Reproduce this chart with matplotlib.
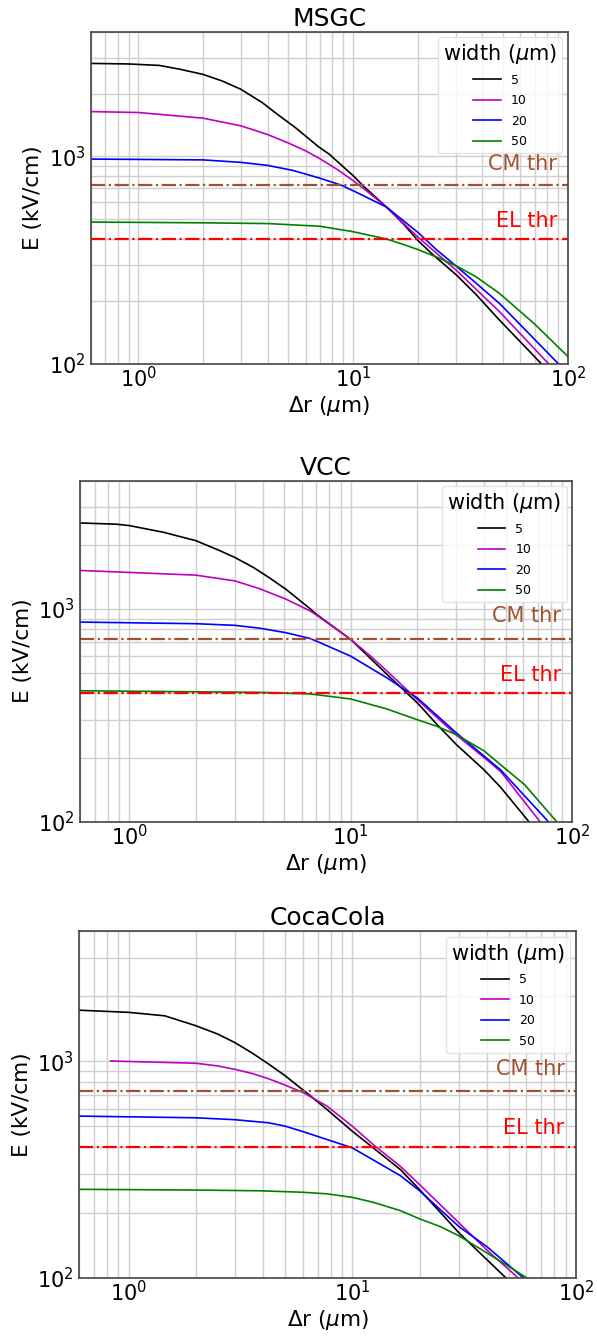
import numpy as np
import matplotlib
matplotlib.use("Agg")
import matplotlib.pyplot as plt
import matplotlib.transforms as mtransforms

titles = ["MSGC", "VCC", "CocaCola"]
widths = ["5", "10", "20", "50"]
colors = ["black", "m", "b", "g"]
cm_thr = 725
el_thr = 400

# MSGC
msgc_x5 = [0.6, 0.9, 1.25, 1.55, 2.0, 2.46, 3.0, 3.77, 4.5, 5.38, 6.9, 7.72, 10.0, 11.1, 14.3, 17.1, 20.0, 23.6, 30.2, 37.4, 48.0, 75.0]
msgc_y5 = [2812, 2795, 2750, 2640, 2489, 2312, 2109, 1820, 1580, 1378, 1113, 1027, 807, 723, 569, 473, 393, 334, 268, 215, 162, 100]
msgc_x10 = [0.6, 1.0, 2.0, 3.0, 4.0, 5.0, 6.0, 7.0, 8.5, 10.0, 11.5, 14.3, 20.0, 30.2, 48.0, 81.0]
msgc_y10 = [1646, 1629, 1530, 1405, 1275, 1160, 1065, 975, 860, 764, 684, 569, 408, 282, 178, 100]
msgc_x20 = [0.6, 2.0, 3.0, 4.0, 5.26, 7.0, 8.85, 10.7, 14.3, 20.0, 24.4, 30.2, 37.4, 48.0, 90.0]
msgc_y20 = [971, 962, 936, 905, 855, 785, 725, 660, 569, 430, 355, 295, 244, 195, 100]
msgc_x50 = [0.6, 2.0, 4.0, 7.0, 10.0, 14.2, 17.1, 20.0, 24.4, 30.2, 37.4, 48.0, 70.0, 100.0]
msgc_y50 = [482, 478, 474, 460, 433, 400, 376, 355, 327, 296, 262, 218, 155, 108]

# VCC
vcc_x5 = [0.6, 0.877, 1.0, 1.43, 2.0, 2.57, 3.0, 3.64, 4.33, 5.1, 6.56, 7.0, 10.0, 14.6, 20.0, 24.6, 30.0, 40.0, 47.5, 63.7]
vcc_y5 = [2530, 2496, 2460, 2287, 2089, 1874, 1742, 1563, 1390, 1235, 1000, 942, 718, 491, 361, 285, 230, 175, 145, 100]
vcc_x10 = [0.6, 2.0, 3.0, 3.86, 5.1, 6.56, 7.0, 10.0, 12.3, 14.6, 20.0, 30.0, 40.0, 47.5, 71.5]
vcc_y10 = [1514, 1439, 1352, 1245, 1110, 977, 935, 718, 599, 509, 374, 255, 200, 172, 100]
vcc_x20 = [0.6, 2.0, 3.0, 3.9, 5.1, 6.56, 7.0, 10.0, 14.6, 20.0, 30.0, 47.5, 78.0]
vcc_y20 = [866, 851, 836, 810, 772, 725, 705, 599, 473, 381, 261, 175, 100]
vcc_x50 = [0.6, 3.9, 6.56, 10.0, 14.6, 20.0, 24.6, 30.0, 40.0, 47.5, 61.0, 85.0]
vcc_y50 = [412, 405, 398, 377, 338, 301, 280, 256, 215, 185, 149, 100]

# CocaCola
coca_x5 = [0.6, 1.0, 1.45, 2.0, 2.51, 2.98, 3.54, 4.2, 4.99, 6.35, 7.7, 10.0, 12.4, 16.4, 20.0, 30.0, 40.0, 48.5]
coca_y5 = [1722, 1683, 1622, 1459, 1334, 1221, 1097, 975, 860, 705, 599, 475, 398, 316, 255, 161, 121, 100]
coca_x10 = [0.83, 2.0, 2.51, 2.98, 3.54, 4.2, 4.99, 6.06, 7.7, 10.0, 12.4, 16.4, 20.0, 30.0, 40.0, 55.0]
coca_y10 = [1003, 979, 951, 918, 880, 832, 777, 715, 621, 501, 412, 327, 269, 179, 134, 100]
coca_x20 = [0.6, 2.0, 2.98, 4.2, 4.99, 6.06, 7.7, 10.0, 12.4, 16.4, 20.0, 30.0, 40.0, 58.0]
coca_y20 = [558, 548, 537, 520, 502, 472, 435, 398, 350, 296, 252, 172, 139, 100]
coca_x50 = [0.6, 2.0, 3.87, 6.06, 7.7, 10.0, 12.4, 16.4, 20.0, 24.8, 30.0, 40.0, 48.5, 60.0]
coca_y50 = [256, 254, 252, 248, 244, 235, 223, 204, 187, 172, 156, 130, 115, 100]

panels = [
    [(msgc_x5, msgc_y5), (msgc_x10, msgc_y10), (msgc_x20, msgc_y20), (msgc_x50, msgc_y50)],
    [(vcc_x5, vcc_y5), (vcc_x10, vcc_y10), (vcc_x20, vcc_y20), (vcc_x50, vcc_y50)],
    [(coca_x5, coca_y5), (coca_x10, coca_y10), (coca_x20, coca_y20), (coca_x50, coca_y50)],
]

positions = [
    [0.1519, 0.7283, 0.7995, 0.2480],
    [0.1340, 0.3859, 0.8246, 0.2549],
    [0.1323, 0.0451, 0.8325, 0.2591],
]

fig = plt.figure(figsize=(5.97, 13.38), dpi=100)

for title, series, pos in zip(titles, panels, positions):
    ax = fig.add_axes(pos)
    for (xs, ys), c, w in zip(series, colors, widths):
        ax.plot(xs, ys, color=c, lw=1.2, label=w)
    ax.axhline(cm_thr, color="sienna", ls="-.", lw=1.6)
    ax.axhline(el_thr, color="red", ls="-.", lw=1.6)
    trans = mtransforms.blended_transform_factory(ax.transAxes, ax.transData)
    ax.text(0.977, 920, "CM thr", color="sienna", fontsize=15, ha="right", va="center", transform=trans)
    ax.text(0.977, 490, "EL thr", color="red", fontsize=15, ha="right", va="center", transform=trans)
    ax.set_xscale("log")
    ax.set_yscale("log")
    ax.set_xlim(0.6, 100)
    ax.set_ylim(100, 4000)
    ax.grid(True, which="both", color="#cfcfcf", lw=1.0)
    ax.set_axisbelow(True)
    ax.tick_params(labelsize=15, which="both", length=0)
    ax.tick_params(axis="x", pad=2)
    for sp in ax.spines.values():
        sp.set_color("#444444")
        sp.set_linewidth(1.2)
    ax.set_title(title, fontsize=18, pad=4)
    ax.set_xlabel(r"$\Delta$r ($\mu$m)", fontsize=15.5, labelpad=2)
    ax.set_ylabel("E (kV/cm)", fontsize=15.5, labelpad=4)
    leg = ax.legend(title=r"width ($\mu$m)", fontsize=9, title_fontsize=15,
                    loc="upper right", frameon=True, borderaxespad=0.45,
                    handlelength=2.2, labelspacing=0.6)
    leg.get_frame().set_edgecolor("#dddddd")
    leg.get_frame().set_alpha(0.8)

fig.savefig("out.png", dpi=100)
